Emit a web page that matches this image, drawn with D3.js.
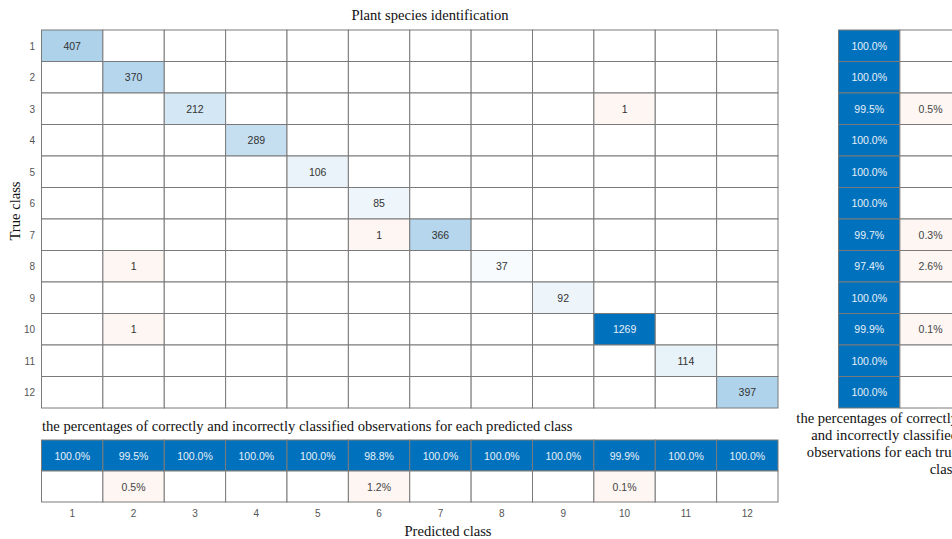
<!DOCTYPE html>
<html>
<head>
<meta charset="utf-8">
<script src="https://cdn.jsdelivr.net/npm/d3@7"></script>
<style>
  body { margin: 0; background: #fff; overflow: hidden; }
  .cell-text { font-family: "Liberation Sans", Arial, sans-serif; font-size: 10.5px; }
  .tick { font-family: "Liberation Sans", Arial, sans-serif; font-size: 10px; fill: #555; }
  .serif { font-family: "Liberation Serif", "Times New Roman", serif; font-size: 14.6px; fill: #111; }
</style>
</head>
<body>
<div id="chart"></div>
<script>
// class labels
const classes = ["1","2","3","4","5","6","7","8","9","10","11","12"];

// correctly classified counts (diagonal)
const diagCounts = [407, 370, 212, 289, 106, 85, 366, 37, 92, 1269, 114, 397];

// misclassified counts: [true class, predicted class, count]
const offDiag = [
  ["3", "10", 1],
  ["7", "6", 1],
  ["8", "2", 1],
  ["10", "2", 1]
];

const width = 952, height = 539;

const svg = d3.select("#chart")
  .append("svg")
  .attr("width", width)
  .attr("height", height);

// main grid geometry
const x = d3.scaleBand().domain(classes).range([41.5, 778]);
const y = d3.scaleBand().domain(classes).range([30, 408]);

// colors
const blue = d3.scaleLinear().domain([0, d3.max(diagCounts)]).range(["#ffffff", "#0072BD"]);
const pink = d3.interpolateRgb("#ffffff", "#D95319")(0.055);

// build full matrix
const cells = [];
classes.forEach((t, i) => {
  classes.forEach((p, j) => {
    cells.push({ t: t, p: p, v: i === j ? diagCounts[i] : 0, diag: i === j });
  });
});
offDiag.forEach(d => {
  const c = cells.find(e => e.t === d[0] && e.p === d[1]);
  c.v = d[2];
});

function textColor(fill) {
  const c = d3.rgb(fill);
  return (c.r * 0.3 + c.g * 0.59 + c.b * 0.11) < 140 ? "#e8f0f8" : "#333";
}

const main = svg.append("g");
main.selectAll("rect")
  .data(cells)
  .enter()
  .append("rect")
  .attr("x", d => x(d.p))
  .attr("y", d => y(d.t))
  .attr("width", x.bandwidth())
  .attr("height", y.bandwidth())
  .attr("fill", d => d.v === 0 ? "#fff" : (d.diag ? blue(d.v) : pink))
  .attr("stroke", "#7a7a7a")
  .attr("stroke-width", 1);

main.selectAll("text")
  .data(cells.filter(d => d.v > 0))
  .enter()
  .append("text")
  .attr("class", "cell-text")
  .attr("x", d => x(d.p) + x.bandwidth() / 2)
  .attr("y", d => y(d.t) + y.bandwidth() / 2 + 4)
  .attr("text-anchor", "middle")
  .attr("fill", d => textColor(d.diag ? blue(d.v) : pink))
  .text(d => d.v);

// row tick labels
svg.append("g").selectAll("text")
  .data(classes)
  .enter()
  .append("text")
  .attr("class", "tick")
  .attr("x", 35)
  .attr("y", d => y(d) + y.bandwidth() / 2 + 4)
  .attr("text-anchor", "end")
  .text(d => d);

// column summary (per predicted class)
const colTotals = classes.map(p => d3.sum(cells.filter(c => c.p === p), c => c.v));
const colSummary = [];
classes.forEach((p, j) => {
  const correct = diagCounts[j] / colTotals[j] * 100;
  colSummary.push({ p: p, row: 0, pct: correct });
  colSummary.push({ p: p, row: 1, pct: 100 - correct });
});

const ySum = d3.scaleBand().domain([0, 1]).range([440, 502]);
const bottom = svg.append("g");
bottom.selectAll("rect")
  .data(colSummary)
  .enter()
  .append("rect")
  .attr("x", d => x(d.p))
  .attr("y", d => ySum(d.row))
  .attr("width", x.bandwidth())
  .attr("height", ySum.bandwidth())
  .attr("fill", d => d.pct < 0.05 ? "#fff" : (d.row === 0 ? "#0072BD" : pink))
  .attr("stroke", "#7a7a7a");

bottom.selectAll("text")
  .data(colSummary.filter(d => d.pct >= 0.05))
  .enter()
  .append("text")
  .attr("class", "cell-text")
  .attr("x", d => x(d.p) + x.bandwidth() / 2)
  .attr("y", d => ySum(d.row) + ySum.bandwidth() / 2 + 4)
  .attr("text-anchor", "middle")
  .attr("fill", d => d.row === 0 ? "#e8f0f8" : "#444")
  .text(d => d.pct.toFixed(1) + "%");

// column tick labels
svg.append("g").selectAll("text")
  .data(classes)
  .enter()
  .append("text")
  .attr("class", "tick")
  .attr("x", d => x(d) + x.bandwidth() / 2)
  .attr("y", 517)
  .attr("text-anchor", "middle")
  .text(d => d);

// row summary (per true class)
const rowTotals = classes.map(t => d3.sum(cells.filter(c => c.t === t), c => c.v));
const rowSummary = [];
classes.forEach((t, i) => {
  const correct = diagCounts[i] / rowTotals[i] * 100;
  rowSummary.push({ t: t, col: 0, pct: correct });
  rowSummary.push({ t: t, col: 1, pct: 100 - correct });
});

const xSum = d3.scaleBand().domain([0, 1]).range([838.5, 838.5 + 2 * x.bandwidth()]);
const right = svg.append("g");
right.selectAll("rect")
  .data(rowSummary)
  .enter()
  .append("rect")
  .attr("x", d => xSum(d.col))
  .attr("y", d => y(d.t))
  .attr("width", xSum.bandwidth())
  .attr("height", y.bandwidth())
  .attr("fill", d => d.pct < 0.05 ? "#fff" : (d.col === 0 ? "#0072BD" : pink))
  .attr("stroke", "#7a7a7a");

right.selectAll("text")
  .data(rowSummary.filter(d => d.pct >= 0.05))
  .enter()
  .append("text")
  .attr("class", "cell-text")
  .attr("x", d => xSum(d.col) + xSum.bandwidth() / 2)
  .attr("y", d => y(d.t) + y.bandwidth() / 2 + 4)
  .attr("text-anchor", "middle")
  .attr("fill", d => d.col === 0 ? "#e8f0f8" : "#444")
  .text(d => d.pct.toFixed(1) + "%");

// titles and captions
svg.append("text")
  .attr("class", "serif")
  .attr("x", 430)
  .attr("y", 20)
  .attr("text-anchor", "middle")
  .text("Plant species identification");

svg.append("text")
  .attr("class", "serif")
  .attr("transform", "translate(20,211) rotate(-90)")
  .attr("text-anchor", "middle")
  .text("True class");

svg.append("text")
  .attr("class", "serif")
  .attr("x", 42)
  .attr("y", 431)
  .text("the percentages of correctly and incorrectly classified observations for each predicted class");

svg.append("text")
  .attr("class", "serif")
  .attr("x", 448)
  .attr("y", 536)
  .attr("text-anchor", "middle")
  .text("Predicted class");

const rightCaption = ["the percentages of correctly", "and incorrectly classified", "observations for each true", "class"];
svg.append("g").selectAll("text")
  .data(rightCaption)
  .enter()
  .append("text")
  .attr("class", "serif")
  .attr("x", 958)
  .attr("y", (d, i) => 423 + i * 17)
  .attr("text-anchor", "end")
  .text(d => d);
</script>
</body>
</html>
